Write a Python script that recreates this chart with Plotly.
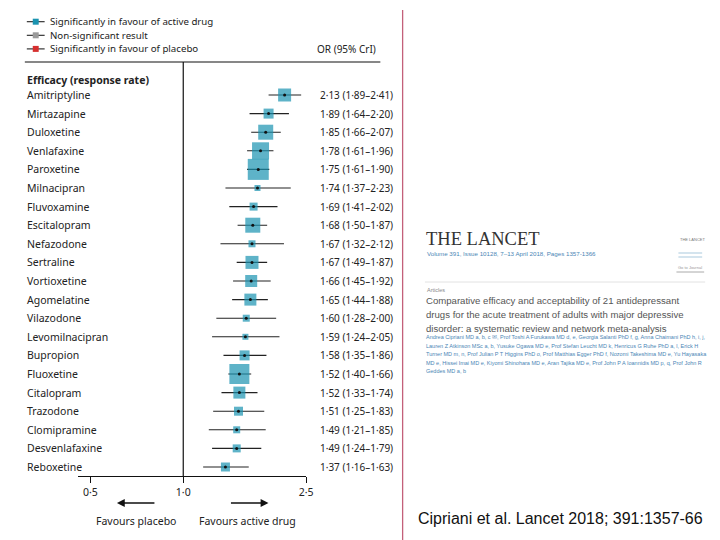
import plotly.graph_objects as go

# ---------------- data ----------------
drugs = ["Amitriptyline", "Mirtazapine", "Duloxetine", "Venlafaxine", "Paroxetine",
         "Milnacipran", "Fluvoxamine", "Escitalopram", "Nefazodone", "Sertraline",
         "Vortioxetine", "Agomelatine", "Vilazodone", "Levomilnacipran", "Bupropion",
         "Fluoxetine", "Citalopram", "Trazodone", "Clomipramine", "Desvenlafaxine",
         "Reboxetine"]
odds_ratio = [2.13, 1.89, 1.85, 1.78, 1.75, 1.74, 1.69, 1.68, 1.67, 1.67, 1.66,
              1.65, 1.60, 1.59, 1.58, 1.52, 1.52, 1.51, 1.49, 1.49, 1.37]
ci_low = [1.89, 1.64, 1.66, 1.61, 1.61, 1.37, 1.41, 1.50, 1.32, 1.49, 1.45,
          1.44, 1.28, 1.24, 1.35, 1.40, 1.33, 1.25, 1.21, 1.24, 1.16]
ci_high = [2.41, 2.20, 2.07, 1.96, 1.90, 2.23, 2.02, 1.87, 2.12, 1.87, 1.92,
           1.88, 2.00, 2.05, 1.86, 1.66, 1.74, 1.83, 1.85, 1.79, 1.63]
weight_px = [13, 10, 15, 17, 21, 6, 8, 15, 7, 13, 12, 12, 7, 6, 10, 20, 12, 9, 7, 8, 9]

tick_vals = [0.5, 1.0, 2.5]
tick_text = ["0·5", "1·0", "2·5"]

legend_labels = ["Significantly in favour of active drug", "Non-significant result",
                 "Significantly in favour of placebo"]
legend_colors = ["#1a93b0", "#9a9a9a", "#d6302f"]

authors_lines = [
    "Andrea Cipriani MD a, b, c ✉, Prof Toshi A Furukawa MD d, e, Georgia Salanti PhD f, g, Anna Chaimani PhD h, i, j,",
    "Lauren Z Atkinson MSc a, b, Yusuke Ogawa MD e, Prof Stefan Leucht MD k, Henricus G Ruhe PhD a, l, Erick H",
    "Turner MD m, n, Prof Julian P T Higgins PhD o, Prof Matthias Egger PhD f, Nozomi Takeshima MD e, Yu Hayasaka",
    "MD e, Hissei Imai MD e, Kiyomi Shinohara MD e, Aran Tajika MD e, Prof John P A Ioannidis MD p, q, Prof John R",
    "Geddes MD a, b",
]
title_lines = [
    "Comparative efficacy and acceptability of 21 antidepressant",
    "drugs for the acute treatment of adults with major depressive",
    "disorder: a systematic review and network meta-analysis",
]

# ---------------- layout helpers ----------------
W, H = 720, 540
OFF = 8  # page body margin
def px(x):
    return (x - OFF) / W
def py(y):
    return 1 - (y - OFF) / H

TEAL = "#1a93b0"
FONT = "Liberation Sans Narrow, Noto Sans, sans-serif"
SANS = "Liberation Sans, Arial, sans-serif"
ROW0, ROWSTEP = 95.0, 18.6
Y_TOP_PX, Y_AX_PX = 62.0, 476.0
y_top = (Y_TOP_PX - ROW0) / ROWSTEP
y_bot = (Y_AX_PX - ROW0) / ROWSTEP

rows = list(range(len(drugs)))

def fmt(v):
    return f"{v:.2f}".replace(".", "·")

fig = go.Figure()

# reference line at OR = 1
fig.add_trace(go.Scatter(x=[1, 1], y=[y_top, y_bot], mode="lines",
                         line=dict(color="#111", width=1.2), hoverinfo="skip",
                         cliponaxis=False, showlegend=False))

# squares with CI
fig.add_trace(go.Scatter(
    x=odds_ratio, y=rows, mode="markers",
    marker=dict(symbol="square", size=weight_px, color=TEAL, line=dict(width=0)),
    error_x=dict(type="data", symmetric=False,
                 array=[h - o for h, o in zip(ci_high, odds_ratio)],
                 arrayminus=[o - l for o, l in zip(odds_ratio, ci_low)],
                 color="#222", thickness=1.1, width=0),
    cliponaxis=False, showlegend=False))

# point estimate dots
fig.add_trace(go.Scatter(x=odds_ratio, y=rows, mode="markers",
                         marker=dict(symbol="circle", size=3, color="#111"),
                         cliponaxis=False, showlegend=False))

fig.update_xaxes(type="log", range=[-0.340, 0.39794], domain=[px(79), px(309)],
                 showline=True, linecolor="#111", linewidth=1.2,
                 ticks="outside", ticklen=6, tickcolor="#111", tickwidth=1.2,
                 tickvals=tick_vals, ticktext=tick_text, showgrid=False, zeroline=False,
                 tickfont=dict(family=FONT, size=10.5, color="#222"), anchor="y")
fig.update_yaxes(range=[y_bot, y_top], domain=[py(Y_AX_PX), py(Y_TOP_PX)],
                 visible=False)

ann = []
# drug names and OR text
for i, d in enumerate(drugs):
    ann.append(dict(x=px(25), y=i, xref="paper", yref="y", text=d, showarrow=False,
                    xanchor="left", yanchor="middle",
                    font=dict(family=FONT, size=10.5, color="#222")))
    ann.append(dict(x=px(321), y=i, xref="paper", yref="y",
                    text=f"{fmt(odds_ratio[i])} ({fmt(ci_low[i])}–{fmt(ci_high[i])})",
                    showarrow=False, xanchor="left", yanchor="middle",
                    font=dict(family=FONT, size=10, color="#222")))

shapes = []
# legend
for k, (lab, col) in enumerate(zip(legend_labels, legend_colors)):
    yy = 21.7 + 13.6 * k
    shapes.append(dict(type="line", xref="paper", yref="paper", x0=px(27), x1=px(45),
                       y0=py(yy), y1=py(yy), line=dict(color="#222", width=1.1)))
    shapes.append(dict(type="rect", xref="paper", yref="paper", x0=px(33), x1=px(39),
                       y0=py(yy - 3), y1=py(yy + 3), fillcolor=col, line=dict(width=0)))
    ann.append(dict(x=px(48), y=py(yy), xref="paper", yref="paper", text=lab,
                    showarrow=False, xanchor="left", yanchor="middle",
                    font=dict(family=FONT, size=9.7, color="#222")))

ann.append(dict(x=px(318), y=py(49), xref="paper", yref="paper", text="OR (95% CrI)",
                showarrow=False, xanchor="left", yanchor="middle",
                font=dict(family=FONT, size=10, color="#222")))
shapes.append(dict(type="line", xref="paper", yref="paper", x0=px(25), x1=px(384),
                   y0=py(62), y1=py(62), line=dict(color="#111", width=1.2)))
ann.append(dict(x=px(25), y=py(80), xref="paper", yref="paper",
                text="<b>Efficacy (response rate)</b>", showarrow=False,
                xanchor="left", yanchor="middle",
                font=dict(family=FONT, size=10.5, color="#222")))

# direction arrows
ann.append(dict(x=px(118), y=py(503), xref="paper", yref="paper", text="",
                showarrow=True, ax=39, ay=0, arrowhead=2, arrowsize=1.2,
                arrowwidth=1.3, arrowcolor="#111"))
ann.append(dict(x=px(271), y=py(503), xref="paper", yref="paper", text="",
                showarrow=True, ax=-39, ay=0, arrowhead=2, arrowsize=1.2,
                arrowwidth=1.3, arrowcolor="#111"))
ann.append(dict(x=px(137), y=py(521), xref="paper", yref="paper", text="Favours placebo",
                showarrow=False, xanchor="center", yanchor="middle",
                font=dict(family=FONT, size=10.5, color="#222")))
ann.append(dict(x=px(250), y=py(521), xref="paper", yref="paper", text="Favours active drug",
                showarrow=False, xanchor="center", yanchor="middle",
                font=dict(family=FONT, size=10.5, color="#222")))

# slide divider
shapes.append(dict(type="line", xref="paper", yref="paper", x0=px(406.5), x1=px(406.5),
                   y0=0, y1=py(10), line=dict(color="#c3607a", width=1.3)))

# Lancet article header (right panel)
ann.append(dict(x=px(428), y=py(239), xref="paper", yref="paper", text="THE LANCET",
                showarrow=False, xanchor="left", yanchor="middle",
                font=dict(family="Liberation Serif, DejaVu Serif, serif", size=18.5, color="#333")))
ann.append(dict(x=px(429), y=py(253), xref="paper", yref="paper",
                text="Volume 391, Issue 10128, 7–13 April 2018, Pages 1357-1366",
                showarrow=False, xanchor="left", yanchor="middle",
                font=dict(family=SANS, size=6.2, color="#4a86b5")))
ann.append(dict(x=px(685), y=py(240), xref="paper", yref="paper", text="THE LANCET",
                showarrow=False, xanchor="left", yanchor="middle",
                font=dict(family=SANS, size=4, color="#777")))
for yy in (253, 257):
    shapes.append(dict(type="line", xref="paper", yref="paper", x0=px(685), x1=px(709),
                       y0=py(yy), y1=py(yy), line=dict(color="#a9c9dd", width=1)))
ann.append(dict(x=px(683), y=py(268), xref="paper", yref="paper", text="Go to Journal",
                showarrow=False, xanchor="left", yanchor="middle",
                font=dict(family=SANS, size=4, color="#999")))
shapes.append(dict(type="line", xref="paper", yref="paper", x0=px(683), x1=px(711),
                   y0=py(272), y1=py(272), line=dict(color="#aaa", width=1)))
shapes.append(dict(type="line", xref="paper", yref="paper", x0=px(429), x1=px(712),
                   y0=py(282), y1=py(282), line=dict(color="#e2e2e2", width=1)))
ann.append(dict(x=px(429), y=py(290), xref="paper", yref="paper", text="Articles",
                showarrow=False, xanchor="left", yanchor="middle",
                font=dict(family=SANS, size=5.5, color="#888")))
for k, t in enumerate(title_lines):
    ann.append(dict(x=px(428), y=py(300.5 + 13.8 * k), xref="paper", yref="paper", text=t,
                    showarrow=False, xanchor="left", yanchor="middle",
                    font=dict(family=SANS, size=9.6, color="#555")))
for k, t in enumerate(authors_lines):
    ann.append(dict(x=px(428), y=py(337 + 8.6 * k), xref="paper", yref="paper", text=t,
                    showarrow=False, xanchor="left", yanchor="middle",
                    font=dict(family=SANS, size=5.5, color="#4a86b5")))

ann.append(dict(x=px(420), y=py(518), xref="paper", yref="paper",
                text="Cipriani et al. Lancet 2018; 391:1357-66", showarrow=False,
                xanchor="left", yanchor="middle",
                font=dict(family=SANS, size=16, color="#111")))

fig.update_layout(width=W, height=H, margin=dict(l=0, r=0, t=0, b=0),
                  paper_bgcolor="white", plot_bgcolor="white",
                  annotations=ann, shapes=shapes, showlegend=False)

fig.write_html("out.html")
